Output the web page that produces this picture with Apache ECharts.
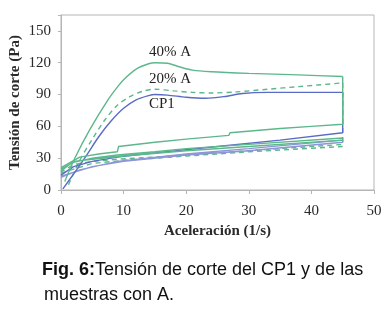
<!DOCTYPE html>
<html>
<head>
<meta charset="utf-8">
<script src="https://cdn.jsdelivr.net/npm/echarts@6/dist/echarts.min.js"></script>
<style>
  html, body { margin: 0; padding: 0; background: #fff; }
  #chart { width: 389px; height: 319px; }
</style>
</head>
<body>
<div id="chart"></div>
<script>
// tick labels
var xTicks = [0, 10, 20, 30, 40, 50];
var yTicks = [0, 30, 60, 90, 120, 150];

// 40% A (verde continuo)
var a40Up = [[0.6, 8], [2.2, 30], [4.6, 57], [7.5, 85], [9, 97], [10, 104], [12, 114], [14, 119], [15, 120], [17, 119.5], [19, 116], [21, 113], [24, 111.5], [30, 110], [38, 108.5], [45, 107]];
var a40Down = [[45, 107], [45, 62], [40, 60], [35, 58], [27, 54], [26.8, 51.5], [20, 48], [15, 45], [9.2, 41], [9, 36], [6, 34], [3, 31], [0, 21]];
var a40Loop = [[0, 20], [2, 26], [5, 30], [9, 33], [15, 36], [20, 39], [30, 43], [45, 49], [45, 47], [30, 41], [20, 37], [10, 32], [5, 29], [2, 27], [0, 18]];

// 20% A (verde discontinuo)
var a20Up = [[1.2, 5], [3, 28], [5, 48], [7, 66], [9, 80], [11, 88], [13, 93], [15, 95], [18, 93.5], [21, 92], [24, 91.5], [28, 92.5], [33, 95], [38, 97.5], [45, 101]];
var a20Down = [[45, 101], [45, 43], [35, 39], [25, 35], [15, 31], [9, 29], [5, 27], [2, 24], [0, 17]];
var a20Loop = [[0, 16], [5, 25], [10, 28], [20, 32], [30, 36], [45, 41]];

// CP1 (azul)
var cp1Up = [[0.3, 1], [2, 15], [4, 32], [6, 50], [8, 65], [10, 77], [12, 85], [14, 89], [15, 90], [17, 89.5], [20, 87.5], [23, 86.5], [26, 88], [29, 91], [33, 92], [45, 92]];
var cp1Down = [[45, 92], [45, 54], [35, 47], [25, 41], [15, 35], [9, 31], [5, 27], [2, 22], [0, 14]];
var cp1Loop = [[0, 12], [3, 19], [9, 27], [20, 34], [30, 39], [45, 47], [45, 45], [30, 37], [20, 33], [10, 27], [5, 22], [0, 13]];

var green = '#5cb88c';
var blue = '#5a6bc6';
var lilac = '#8e95d8';
var serif = '"Liberation Serif", "DejaVu Serif", serif';
var sans = '"Liberation Sans", Arial, sans-serif';

function curve(data, color, opts) {
    opts = opts || {};
    return {
        type: 'line',
        data: data,
        showSymbol: false,
        smooth: opts.smooth || false,
        silent: true,
        lineStyle: {
            color: color,
            width: opts.width || 1.4,
            type: opts.dashed ? [5, 4] : 'solid'
        }
    };
}

var chart = echarts.init(document.getElementById('chart'), null, { renderer: 'canvas' });

chart.setOption({
    animation: false,
    grid: {
        left: 61, right: 15, top: 15, bottom: 129,
        outerBoundsMode: 'none',
        containLabel: false,
        show: true, borderColor: '#b5b5b5', borderWidth: 1
    },
    xAxis: {
        type: 'value',
        min: xTicks[0], max: xTicks[xTicks.length - 1], interval: 10,
        name: 'Aceleración (1/s)',
        nameLocation: 'middle',
        nameGap: 34,
        nameMoveOverlap: false,
        nameTextStyle: { fontFamily: serif, fontWeight: 'bold', fontSize: 15, color: '#2a2a2a' },
        axisLine: { lineStyle: { color: '#b5b5b5' } },
        axisTick: { show: true, length: 4, lineStyle: { color: '#b5b5b5' } },
        axisLabel: { fontFamily: serif, fontSize: 15, color: '#2a2a2a', margin: 14 },
        splitLine: { show: false }
    },
    yAxis: {
        type: 'value',
        min: yTicks[0], max: 165, interval: 30,
        name: 'Tensión de corte (Pa)',
        nameLocation: 'middle',
        nameGap: 38,
        nameMoveOverlap: false,
        nameTextStyle: { fontFamily: serif, fontWeight: 'bold', fontSize: 15, color: '#2a2a2a' },
        axisLine: { show: true, lineStyle: { color: '#b5b5b5' } },
        axisTick: { show: true, length: 3, lineStyle: { color: '#b5b5b5' } },
        axisLabel: {
            fontFamily: serif, fontSize: 15, color: '#2a2a2a', margin: 10,
            formatter: function(v) { return yTicks.indexOf(v) >= 0 ? String(v) : ''; }
        },
        splitLine: { show: false }
    },
    series: [
        curve(a20Loop, green, { dashed: true }),
        curve(a20Down, green, { dashed: true }),
        curve(a20Up, green, { dashed: true, smooth: 0.3 }),
        curve(cp1Loop, lilac),
        curve(cp1Down, blue),
        curve(cp1Up, blue, { smooth: 0.3 }),
        curve(a40Loop, green),
        curve(a40Down, green),
        curve(a40Up, green, { smooth: 0.3 })
    ],
    graphic: [
        { type: 'text', left: 149, top: 45, style: { text: '40% A', font: '15px ' + serif, fill: '#222' } },
        { type: 'text', left: 149, top: 72, style: { text: '20% A', font: '15px ' + serif, fill: '#222' } },
        { type: 'text', left: 149, top: 97, style: { text: 'CP1', font: '15px ' + serif, fill: '#222' } },
        {
            type: 'text', left: 42, top: 261,
            style: {
                text: '{b|Fig. 6:}Tensión de corte del CP1 y de las',
                font: '18px ' + sans,
                fill: '#111',
                rich: { b: { fontWeight: 'bold', fontSize: 18, fontFamily: sans, fill: '#111' } }
            }
        },
        {
            type: 'text', left: 44, top: 286,
            style: { text: 'muestras con A.', font: '18px ' + sans, fill: '#111' }
        }
    ]
});
</script>
</body>
</html>
